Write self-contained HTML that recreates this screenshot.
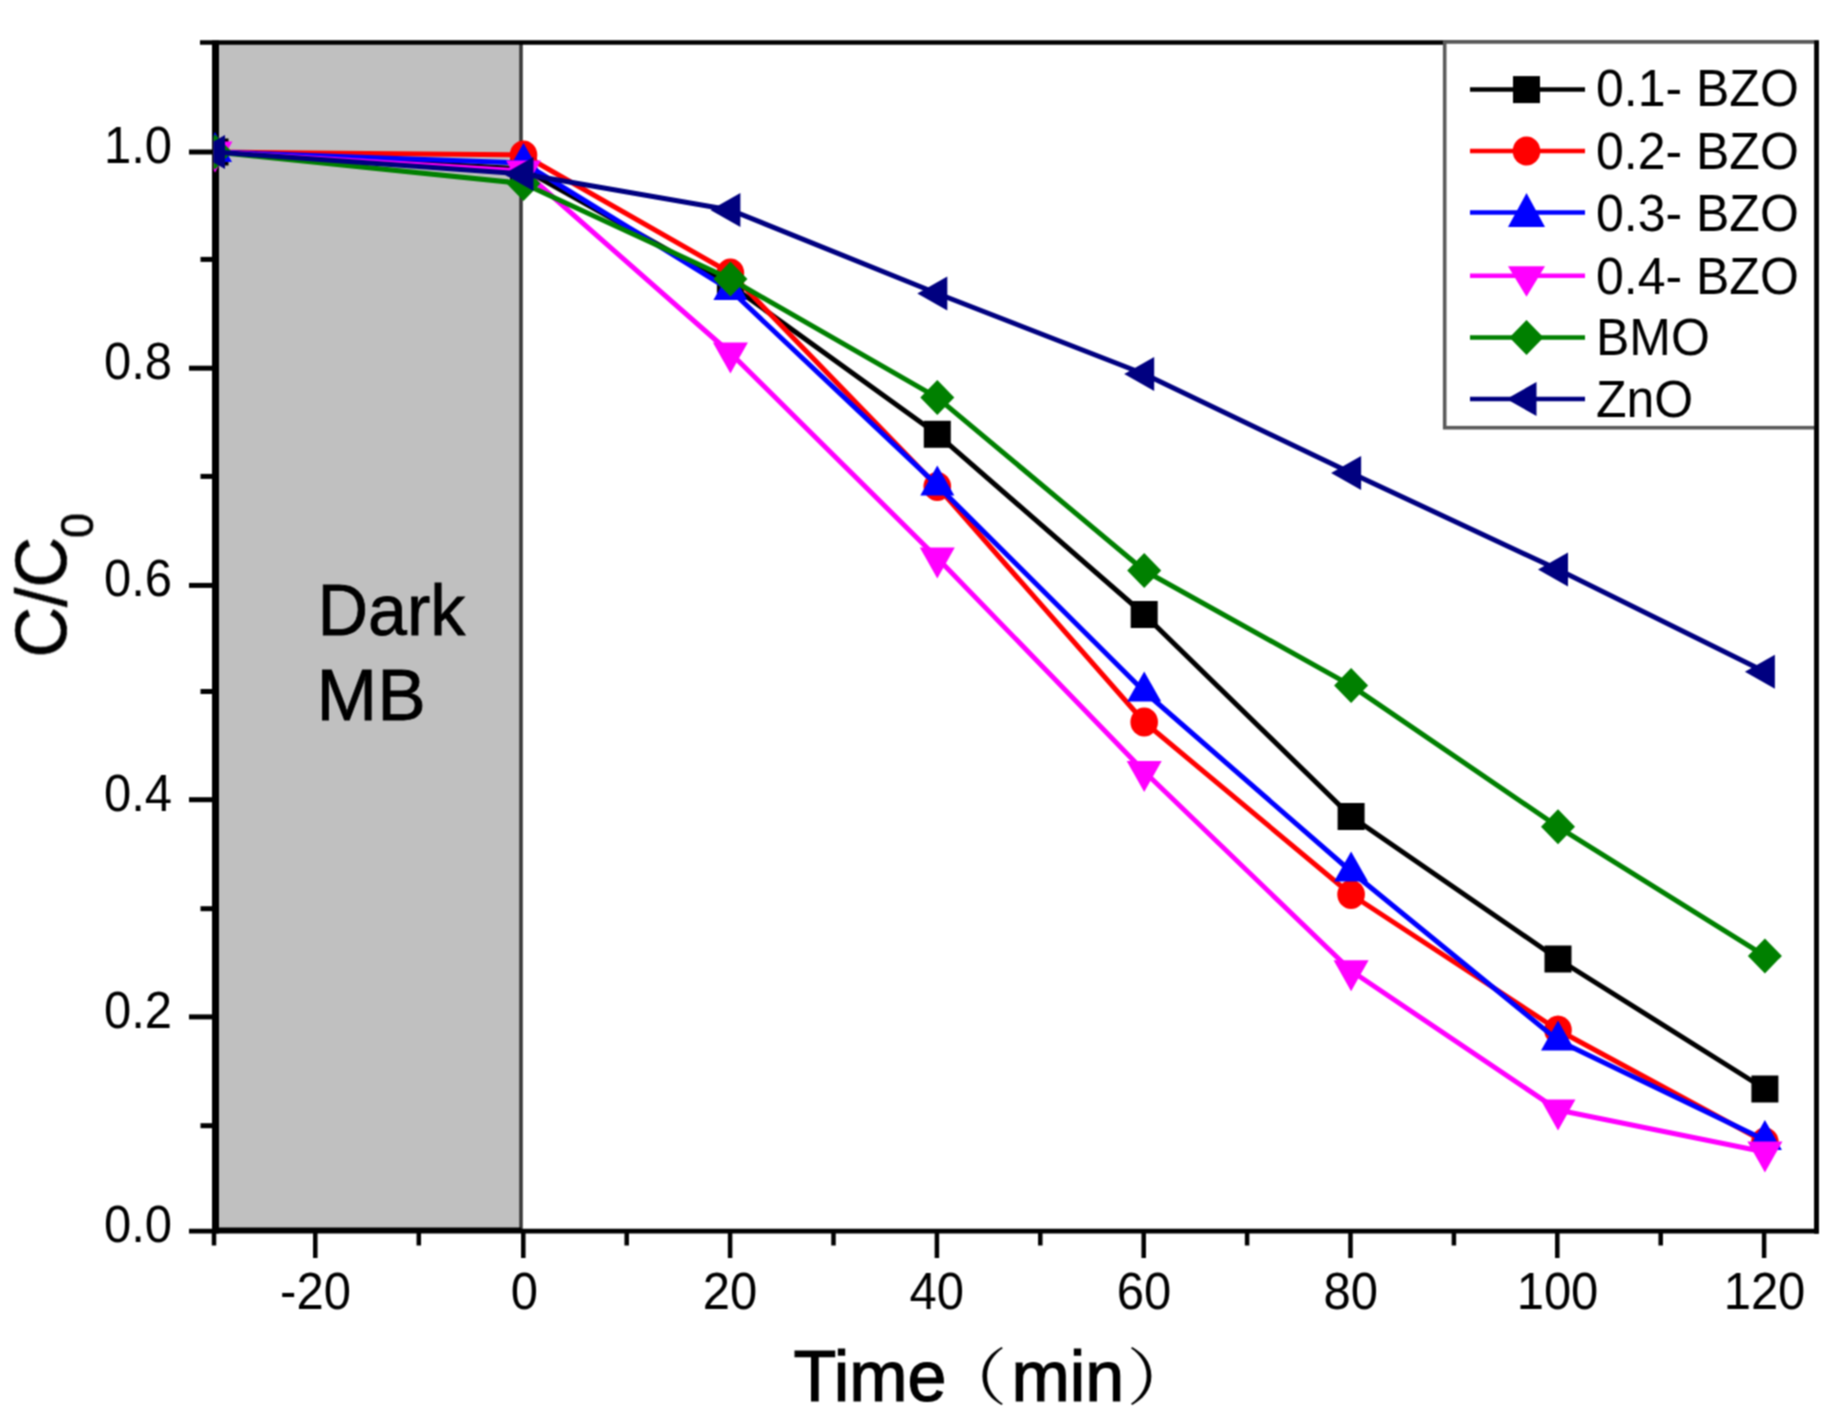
<!DOCTYPE html>
<html lang="en"><head><meta charset="utf-8"><title>C/C0 vs Time</title>
<style>
html,body{margin:0;padding:0;background:#fff;}
body{width:1840px;height:1422px;overflow:hidden;}
svg{display:block;}
text{font-family:"Liberation Sans","Noto Serif CJK SC",sans-serif;fill:#000;}
.cj{font-family:"Noto Serif CJK SC","Noto Sans CJK SC",serif;}
</style></head><body>
<svg width="1840" height="1422" viewBox="0 0 1840 1422">
<defs><clipPath id="plot"><rect x="213.5" y="40" width="1606" height="1194"/></clipPath>
<filter id="b" x="0" y="0" width="1840" height="1422" filterUnits="userSpaceOnUse" color-interpolation-filters="sRGB"><feConvolveMatrix order="3" kernelMatrix="1 2 1 2 4 2 1 2 1" divisor="16" edgeMode="duplicate" preserveAlpha="false"/></filter></defs>
<rect width="1840" height="1422" fill="#fff"/>
<g filter="url(#b)">
<rect width="1840" height="1422" fill="#fff"/>

<rect x="217" y="43" width="302.5" height="1187" fill="#c0c0c0"/>
<line x1="521" y1="43" x2="521" y2="1230" stroke="#383838" stroke-width="3.6"/>
<g stroke="#000" fill="none" stroke-linecap="butt">
<line x1="200" y1="42.5" x2="1818.5" y2="42.5" stroke-width="4.5"/>
<line x1="1816.5" y1="40.5" x2="1816.5" y2="1233.5" stroke-width="4.5"/>
<line x1="189" y1="1231.2" x2="1818.5" y2="1231.2" stroke-width="4.8"/><line x1="212" y1="1230" x2="521" y2="1230" stroke-width="5"/>
<line x1="215.5" y1="40.5" x2="215.5" y2="1233.5" stroke-width="7"/>
<line x1="200.5" y1="1125.7" x2="213" y2="1125.7" stroke-width="5"/>
<line x1="189" y1="1016.9" x2="213" y2="1016.9" stroke-width="5"/>
<line x1="200.5" y1="908.7" x2="213" y2="908.7" stroke-width="5"/>
<line x1="189" y1="799.7" x2="213" y2="799.7" stroke-width="5"/>
<line x1="200.5" y1="691.5" x2="213" y2="691.5" stroke-width="5"/>
<line x1="189" y1="585.4" x2="213" y2="585.4" stroke-width="5"/>
<line x1="200.5" y1="476.4" x2="213" y2="476.4" stroke-width="5"/>
<line x1="189" y1="368.2" x2="213" y2="368.2" stroke-width="5"/>
<line x1="200.5" y1="259.4" x2="213" y2="259.4" stroke-width="5"/>
<line x1="189" y1="152.0" x2="213" y2="152.0" stroke-width="5"/>
<line x1="214.0" y1="1231" x2="214.0" y2="1245.5" stroke-width="4.5"/>
<line x1="315.3" y1="1231" x2="315.3" y2="1258" stroke-width="4.5"/>
<line x1="418.8" y1="1231" x2="418.8" y2="1245.5" stroke-width="4.5"/>
<line x1="523.3" y1="1231" x2="523.3" y2="1258" stroke-width="4.5"/>
<line x1="626.7" y1="1231" x2="626.7" y2="1245.5" stroke-width="4.5"/>
<line x1="730.1" y1="1231" x2="730.1" y2="1258" stroke-width="4.5"/>
<line x1="833.5" y1="1231" x2="833.5" y2="1245.5" stroke-width="4.5"/>
<line x1="936.9" y1="1231" x2="936.9" y2="1258" stroke-width="4.5"/>
<line x1="1040.3" y1="1231" x2="1040.3" y2="1245.5" stroke-width="4.5"/>
<line x1="1143.7" y1="1231" x2="1143.7" y2="1258" stroke-width="4.5"/>
<line x1="1247.1" y1="1231" x2="1247.1" y2="1245.5" stroke-width="4.5"/>
<line x1="1350.5" y1="1231" x2="1350.5" y2="1258" stroke-width="4.5"/>
<line x1="1453.9" y1="1231" x2="1453.9" y2="1245.5" stroke-width="4.5"/>
<line x1="1557.3" y1="1231" x2="1557.3" y2="1258" stroke-width="4.5"/>
<line x1="1660.7" y1="1231" x2="1660.7" y2="1245.5" stroke-width="4.5"/>
<line x1="1764.1" y1="1231" x2="1764.1" y2="1258" stroke-width="4.5"/>
</g>
<g clip-path="url(#plot)" fill="none" stroke-linejoin="round">
<polyline points="215.0,152.0 523.5,169.0 730.4,285.0 937.3,434.3 1144.2,614.5 1351.1,816.5 1558.0,959.0 1764.9,1089.0" stroke="#000000" stroke-width="5" fill="none"/>
<rect x="201.5" y="138.5" width="27" height="27" fill="#000000"/>
<rect x="510.0" y="155.5" width="27" height="27" fill="#000000"/>
<rect x="716.9" y="271.5" width="27" height="27" fill="#000000"/>
<rect x="923.8" y="420.8" width="27" height="27" fill="#000000"/>
<rect x="1130.7" y="601.0" width="27" height="27" fill="#000000"/>
<rect x="1337.6" y="803.0" width="27" height="27" fill="#000000"/>
<rect x="1544.5" y="945.5" width="27" height="27" fill="#000000"/>
<rect x="1751.4" y="1075.5" width="27" height="27" fill="#000000"/>
<polyline points="215.0,152.0 523.5,155.0 730.4,273.0 937.3,486.5 1144.2,722.0 1351.1,894.5 1558.0,1030.0 1764.9,1142.0" stroke="#ff0000" stroke-width="5" fill="none"/>
<ellipse cx="215.0" cy="152.0" rx="13.8" ry="14.5" fill="#ff0000"/>
<ellipse cx="523.5" cy="155.0" rx="13.8" ry="14.5" fill="#ff0000"/>
<ellipse cx="730.4" cy="273.0" rx="13.8" ry="14.5" fill="#ff0000"/>
<ellipse cx="937.3" cy="486.5" rx="13.8" ry="14.5" fill="#ff0000"/>
<ellipse cx="1144.2" cy="722.0" rx="13.8" ry="14.5" fill="#ff0000"/>
<ellipse cx="1351.1" cy="894.5" rx="13.8" ry="14.5" fill="#ff0000"/>
<ellipse cx="1558.0" cy="1030.0" rx="13.8" ry="14.5" fill="#ff0000"/>
<ellipse cx="1764.9" cy="1142.0" rx="13.8" ry="14.5" fill="#ff0000"/>
<polyline points="215.0,152.0 523.5,163.0 730.4,290.0 937.3,485.4 1144.2,691.5 1351.1,871.5 1558.0,1040.4 1764.9,1140.0" stroke="#0000ff" stroke-width="5" fill="none"/>
<polygon points="215.0,132.0 198.0,162.0 232.0,162.0" fill="#0000ff"/>
<polygon points="523.5,143.0 506.5,173.0 540.5,173.0" fill="#0000ff"/>
<polygon points="730.4,270.0 713.4,300.0 747.4,300.0" fill="#0000ff"/>
<polygon points="937.3,465.4 920.3,495.4 954.3,495.4" fill="#0000ff"/>
<polygon points="1144.2,671.5 1127.2,701.5 1161.2,701.5" fill="#0000ff"/>
<polygon points="1351.1,851.5 1334.1,881.5 1368.1,881.5" fill="#0000ff"/>
<polygon points="1558.0,1020.4 1541.0,1050.4 1575.0,1050.4" fill="#0000ff"/>
<polygon points="1764.9,1120.0 1747.9,1150.0 1781.9,1150.0" fill="#0000ff"/>
<polyline points="215.0,152.0 523.5,171.0 730.4,353.0 937.3,558.0 1144.2,771.5 1351.1,970.8 1558.0,1110.0 1764.9,1152.0" stroke="#ff00ff" stroke-width="5" fill="none"/>
<polygon points="215.0,172.5 197.5,141.5 232.5,141.5" fill="#ff00ff"/>
<polygon points="523.5,191.5 506.0,160.5 541.0,160.5" fill="#ff00ff"/>
<polygon points="730.4,373.5 712.9,342.5 747.9,342.5" fill="#ff00ff"/>
<polygon points="937.3,578.5 919.8,547.5 954.8,547.5" fill="#ff00ff"/>
<polygon points="1144.2,792.0 1126.7,761.0 1161.7,761.0" fill="#ff00ff"/>
<polygon points="1351.1,991.3 1333.6,960.3 1368.6,960.3" fill="#ff00ff"/>
<polygon points="1558.0,1130.5 1540.5,1099.5 1575.5,1099.5" fill="#ff00ff"/>
<polygon points="1764.9,1172.5 1747.4,1141.5 1782.4,1141.5" fill="#ff00ff"/>
<polyline points="215.0,152.0 523.5,183.5 730.4,279.0 937.3,397.6 1144.2,570.5 1351.1,685.6 1558.0,826.8 1764.9,955.9" stroke="#008000" stroke-width="5" fill="none"/>
<polygon points="215.0,134.5 232.0,152.0 215.0,169.5 198.0,152.0" fill="#008000"/>
<polygon points="523.5,166.0 540.5,183.5 523.5,201.0 506.5,183.5" fill="#008000"/>
<polygon points="730.4,261.5 747.4,279.0 730.4,296.5 713.4,279.0" fill="#008000"/>
<polygon points="937.3,380.1 954.3,397.6 937.3,415.1 920.3,397.6" fill="#008000"/>
<polygon points="1144.2,553.0 1161.2,570.5 1144.2,588.0 1127.2,570.5" fill="#008000"/>
<polygon points="1351.1,668.1 1368.1,685.6 1351.1,703.1 1334.1,685.6" fill="#008000"/>
<polygon points="1558.0,809.3 1575.0,826.8 1558.0,844.3 1541.0,826.8" fill="#008000"/>
<polygon points="1764.9,938.4 1781.9,955.9 1764.9,973.4 1747.9,955.9" fill="#008000"/>
<polyline points="215.0,152.0 523.5,174.0 730.4,210.0 937.3,293.5 1144.2,374.0 1351.1,473.0 1558.0,569.6 1764.9,671.7" stroke="#000080" stroke-width="5" fill="none"/>
<polygon points="195.0,152.0 225.0,135.0 225.0,169.0" fill="#000080"/>
<polygon points="503.5,174.0 533.5,157.0 533.5,191.0" fill="#000080"/>
<polygon points="710.4,210.0 740.4,193.0 740.4,227.0" fill="#000080"/>
<polygon points="917.3,293.5 947.3,276.5 947.3,310.5" fill="#000080"/>
<polygon points="1124.2,374.0 1154.2,357.0 1154.2,391.0" fill="#000080"/>
<polygon points="1331.1,473.0 1361.1,456.0 1361.1,490.0" fill="#000080"/>
<polygon points="1538.0,569.6 1568.0,552.6 1568.0,586.6" fill="#000080"/>
<polygon points="1744.9,671.7 1774.9,654.7 1774.9,688.7" fill="#000080"/>
</g>
<text transform="translate(172.0,1242.3) scale(1.0,1.04)" font-size="49px" text-anchor="end">0.0</text>
<text transform="translate(172.0,1027.9) scale(1.0,1.04)" font-size="49px" text-anchor="end">0.2</text>
<text transform="translate(172.0,810.7) scale(1.0,1.04)" font-size="49px" text-anchor="end">0.4</text>
<text transform="translate(172.0,596.4) scale(1.0,1.04)" font-size="49px" text-anchor="end">0.6</text>
<text transform="translate(172.0,379.2) scale(1.0,1.04)" font-size="49px" text-anchor="end">0.8</text>
<text transform="translate(172.0,163.0) scale(1.0,1.04)" font-size="49px" text-anchor="end">1.0</text>
<text transform="translate(315.5,1309.0) scale(1.0,1.04)" font-size="49px" text-anchor="middle">-20</text>
<text transform="translate(524.3,1309.0) scale(1.0,1.04)" font-size="49px" text-anchor="middle">0</text>
<text transform="translate(730.0,1309.0) scale(1.0,1.04)" font-size="49px" text-anchor="middle">20</text>
<text transform="translate(936.8,1309.0) scale(1.0,1.04)" font-size="49px" text-anchor="middle">40</text>
<text transform="translate(1144.0,1309.0) scale(1.0,1.04)" font-size="49px" text-anchor="middle">60</text>
<text transform="translate(1350.8,1309.0) scale(1.0,1.04)" font-size="49px" text-anchor="middle">80</text>
<text transform="translate(1557.5,1309.0) scale(1.0,1.04)" font-size="49px" text-anchor="middle">100</text>
<text transform="translate(1764.5,1309.0) scale(1.0,1.04)" font-size="49px" text-anchor="middle">120</text>
<text transform="translate(793.5,1401.0) scale(1.0,1.04)" font-size="70px" text-anchor="start" stroke="#000" stroke-width="1.2">Time</text>
<text class="cj" transform="translate(936.0,1400.0) scale(1.15,1.0)" font-size="62px" text-anchor="start">（</text>
<text transform="translate(1011.5,1401.0) scale(1.0,1.04)" font-size="70px" text-anchor="start" stroke="#000" stroke-width="1.2">min</text>
<text class="cj" transform="translate(1126.5,1400.0) scale(1.15,1.0)" font-size="62px" text-anchor="start">）</text>
<text transform="translate(65.7,657.5) rotate(-90) scale(1.0,1.04)" font-size="70px" text-anchor="start" stroke="#000" stroke-width="0.6">C/C<tspan font-size="45px" dy="26" dx="-1">0</tspan></text>
<text transform="translate(317.5,635.0) scale(1.0,1.04)" font-size="70px" text-anchor="start" stroke="#000" stroke-width="0.8">Dark</text>
<text transform="translate(316.5,719.5) scale(1.04,1.04)" font-size="70px" text-anchor="start" stroke="#000" stroke-width="0.8">MB</text>
<rect x="1444.7" y="42" width="371.5" height="385.7" fill="#fff" stroke="#5a5a5a" stroke-width="3.6"/>
<line x1="1816.5" y1="40.5" x2="1816.5" y2="1233.5" stroke="#000" stroke-width="4.5"/>
<line x1="1470" y1="89.6" x2="1585" y2="89.6" stroke="#000000" stroke-width="4.5"/>
<rect x="1513.0" y="76.1" width="27" height="27" fill="#000000"/>
<text transform="translate(1596.0,106.4) scale(1.0,1.04)" font-size="50px" text-anchor="start">0.1- BZO</text>
<line x1="1470" y1="151.1" x2="1585" y2="151.1" stroke="#ff0000" stroke-width="4.5"/>
<ellipse cx="1526.5" cy="151.1" rx="13.8" ry="14.5" fill="#ff0000"/>
<text transform="translate(1596.0,169.1) scale(1.0,1.04)" font-size="50px" text-anchor="start">0.2- BZO</text>
<line x1="1470" y1="212.6" x2="1585" y2="212.6" stroke="#0000ff" stroke-width="4.5"/>
<polygon points="1526.5,193.1 1508.0,227.1 1545.0,227.1" fill="#0000ff"/>
<text transform="translate(1596.0,230.6) scale(1.0,1.04)" font-size="50px" text-anchor="start">0.3- BZO</text>
<line x1="1470" y1="275.8" x2="1585" y2="275.8" stroke="#ff00ff" stroke-width="4.5"/>
<polygon points="1526.5,296.8 1508.0,266.3 1545.0,266.3" fill="#ff00ff"/>
<text transform="translate(1596.0,293.8) scale(1.0,1.04)" font-size="50px" text-anchor="start">0.4- BZO</text>
<line x1="1470" y1="337.4" x2="1585" y2="337.4" stroke="#008000" stroke-width="4.5"/>
<polygon points="1526.5,319.9 1543.5,337.4 1526.5,354.9 1509.5,337.4" fill="#008000"/>
<text transform="translate(1596.0,355.4) scale(1.0,1.04)" font-size="50px" text-anchor="start">BMO</text>
<line x1="1470" y1="399" x2="1585" y2="399" stroke="#000080" stroke-width="4.5"/>
<polygon points="1506.5,399.0 1536.5,382.0 1536.5,416.0" fill="#000080"/>
<text transform="translate(1596.0,417.0) scale(1.0,1.04)" font-size="50px" text-anchor="start">ZnO</text>
</g></svg></body></html>
